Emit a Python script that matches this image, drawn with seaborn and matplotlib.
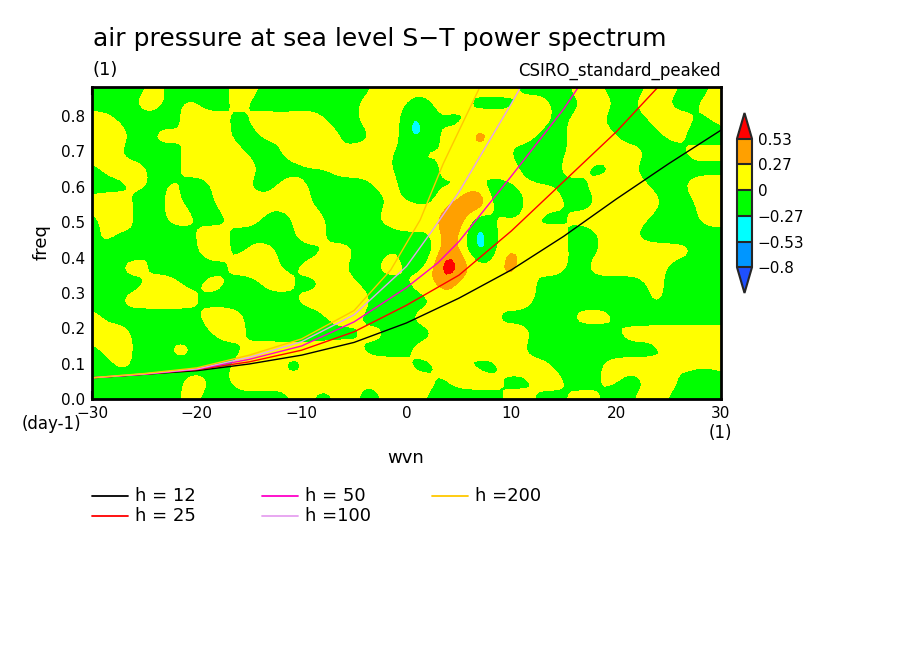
import numpy as np
import seaborn as sns
import matplotlib
matplotlib.use("Agg")
import matplotlib.pyplot as plt
from matplotlib.colors import ListedColormap, BoundaryNorm
from matplotlib.lines import Line2D

# contour levels and colours (GrADS style shading)
levels = [-0.8, -0.53, -0.27, 0, 0.27, 0.53]
level_labels = ["\u22120.8", "\u22120.53", "\u22120.27", "0", "0.27", "0.53"]
fill_colors = ["#0096ff", "#00ffff", "#00ff00", "#ffff00", "#ffa000"]
under_color = "#1e50ff"
over_color = "#ff0000"

# field, one letter per cell (top row = highest freq)
# g: -0.27..0  y: 0..0.27  o: 0.27..0.53  r: >0.53  c: -0.53..-0.27
field_left = [
    "ygggyggggyyggyggggyy", "gggyygyggygggggggyyy", "yyggggyyygyyyyyggyyy",
    "gyygyygyyggygyyyggyy", "yyggggygyyggyyogyyyg", "gyyyggyyyyyggggyyyyg",
    "gggygyggyyggyyggggyy", "yyyggyggyyyyyygggggy", "gyyggyyggyyggyygggyy",
    "gygygggyyggggyyggggg", "ygggyggyygyygggyyggy", "ggyygggggyyygyyyggyy",
    "ygggyygyyggyyggyyggg", "ggyyyyyggggggyyyyygg", "yggggggyyygggggyyggg",
    "yyygggggyygggggggyyg", "gyyggyygggyyyyyyyggg", "ggyggggggyyyggyyyyyy",
    "ggggggyygyyyyyyyyyyy", "ggygggyggggggyggocyy",
]
field_right = [
    "yyogyyygggyygggyyggy", "ggyygggyyggyygyyggyy", "cyggyyyyygyygggyyygy",
    "cgyyoyyyggyyygggyggg", "yygyyyggggyyyyyggyyy", "ggyygoygcyyggygggggg",
    "cyggycyyyggyyyyggyyy", "ggyorgcyyyggyyyyggyy", "oyoocyyyggyyyyygggyy",
    "ggoycyggyyggyygggggg", "cgoycgoyyyggyyyyyygg", "gyroyyogyygyyyyygggg",
    "yyogyyyygggggggygggg", "ggyyyyyygggggggygggg", "yyyyogggggyyyggggggg",
    "ggyyyyyygggggyyyyyyy", "yyyyyyygggggggggyyyy", "ggygggyyygggyyyygyyy",
    "yygoyyggyyggyggyygcg", "yggcggyyggyyggyygggg",
]
letter_value = {"g": -0.15, "y": 0.15, "o": 0.55, "r": 1.0, "c": -0.6}

# dispersion curves (wvn, freq) for each equivalent depth
h_labels = ["h = 12", "h = 25", "h = 50", "h =100", "h =200"]
h_colors = ["#000000", "#ff0000", "#ff00c8", "#e6a0f0", "#ffc800"]
wvn_h12 = [-30, -25, -20, -15, -10, -5, 0, 5, 10, 15, 20, 25, 30]
frq_h12 = [0.06, 0.07, 0.08, 0.099, 0.124, 0.16, 0.215, 0.285, 0.365, 0.46, 0.565, 0.665, 0.76]
wvn_h25 = [-30, -25, -20, -15, -10, -5, 0, 5, 10, 15, 20, 24]
frq_h25 = [0.06, 0.07, 0.083, 0.105, 0.138, 0.19, 0.265, 0.35, 0.475, 0.615, 0.755, 0.882]
wvn_h50 = [-30, -25, -20, -15, -10, -5, 0, 3, 5, 10, 15, 16.4]
frq_h50 = [0.06, 0.07, 0.084, 0.112, 0.15, 0.218, 0.315, 0.385, 0.445, 0.63, 0.82, 0.882]
wvn_h100 = [-30, -25, -20, -15, -10, -5, 0, 2.5, 5, 8, 10, 10.9]
frq_h100 = [0.06, 0.071, 0.085, 0.118, 0.162, 0.238, 0.375, 0.478, 0.585, 0.735, 0.835, 0.882]
wvn_h200 = [-30, -25, -20, -15, -10, -5, -1.5, 1.3, 3.5, 7]
frq_h200 = [0.06, 0.072, 0.088, 0.124, 0.17, 0.25, 0.365, 0.506, 0.665, 0.882]

xticks = [-30, -20, -10, 0, 10, 20, 30]
xtick_labels = ["\u221230", "\u221220", "\u221210", "0", "10", "20", "30"]
yticks = [0.0, 0.1, 0.2, 0.3, 0.4, 0.5, 0.6, 0.7, 0.8]
fmax = 0.882

sns.set_style("ticks")
plt.rcParams["font.family"] = ["DejaVu Sans"]
plt.rcParams["text.color"] = "black"
plt.rcParams["xtick.color"] = "black"
plt.rcParams["ytick.color"] = "black"


def refine(a, k=4):
    # linear upsampling then smoothing, so the shading edges are rounded
    ny, nx = a.shape
    fx = np.linspace(0, nx - 1, (nx - 1) * k + 1)
    fy = np.linspace(0, ny - 1, (ny - 1) * k + 1)
    a = np.array([np.interp(fx, np.arange(nx), r) for r in a])
    a = np.array([np.interp(fy, np.arange(ny), c) for c in a.T]).T
    ker = np.ones(k + 1) / (k + 1)
    for _ in range(2):
        p = np.pad(a, ((0, 0), (k // 2, k // 2)), mode="edge")
        a = np.array([np.convolve(r, ker, mode="valid") for r in p])
        p = np.pad(a, ((k // 2, k // 2), (0, 0)), mode="edge")
        a = np.array([np.convolve(c, ker, mode="valid") for c in p.T]).T
    return a


fig = plt.figure(figsize=(9.04, 6.54), dpi=100)
ax = fig.add_axes([92 / 904, 1 - 399 / 654, 629 / 904, 312 / 654])

rows = [l + r for l, r in zip(field_left, field_right)]
z = np.array([[letter_value[ch] for ch in row] for row in rows])[::-1]
zf = refine(z)
xs = np.linspace(-30, 30, zf.shape[1])
ys = np.linspace(0, fmax, zf.shape[0])

cmap = ListedColormap(fill_colors)
cmap.set_under(under_color)
cmap.set_over(over_color)
norm = BoundaryNorm(levels, cmap.N)
cs = ax.contourf(xs, ys, zf, levels=levels, cmap=cmap, norm=norm, extend="both")

curves = [(wvn_h12, frq_h12), (wvn_h25, frq_h25), (wvn_h50, frq_h50),
          (wvn_h100, frq_h100), (wvn_h200, frq_h200)]
for (w, f), c in zip(curves, h_colors):
    sns.lineplot(x=w, y=f, ax=ax, color=c, lw=1.0, sort=False,
                 estimator=None, legend=False)

ax.set_xlim(-30, 30)
ax.set_ylim(0, fmax)
ax.set_xticks(xticks)
ax.set_xticklabels(xtick_labels)
ax.set_yticks(yticks)
ax.set_yticklabels([f"{v:.1f}" for v in yticks])
ax.set_xticks(np.arange(-30, 31, 2), minor=True)
ax.set_yticks(np.arange(0, 0.86, 0.05), minor=True)
ax.tick_params(which="both", direction="in", top=True, right=True,
               width=1.5, labelsize=11, colors="black")
ax.tick_params(which="major", length=6, pad=5)
ax.tick_params(which="minor", length=3)
for s in ax.spines.values():
    s.set_linewidth(2)
    s.set_color("black")
ax.set_xlabel("")
ax.set_ylabel("")

# colour bar
cax = fig.add_axes([737 / 904, 1 - 293 / 654, 15 / 904, 180 / 654])
cb = fig.colorbar(cs, cax=cax, extend="both", extendfrac=0.2, drawedges=True)
cb.set_ticks(levels)
cb.set_ticklabels(level_labels)
cb.ax.tick_params(length=0, labelsize=11, pad=4, colors="black")
cb.outline.set_linewidth(1.5)
cb.dividers.set_linewidth(1.5)

# texts
fig.text(93 / 904, 1 - 46 / 654, "air pressure at sea level S\u2212T power spectrum",
         fontsize=18, va="baseline", ha="left")
fig.text(93 / 904, 1 - 75 / 654, "(1)", fontsize=13, va="baseline", ha="left")
fig.text(721 / 904, 1 - 76 / 654, "CSIRO_standard_peaked", fontsize=12,
         va="baseline", ha="right")
fig.text(42 / 904, 1 - 242 / 654, "freq", fontsize=13, rotation=90,
         va="center", ha="center")
fig.text(22 / 904, 1 - 424 / 654, "(day-1)", fontsize=12, va="center", ha="left")
fig.text(720 / 904, 1 - 433 / 654, "(1)", fontsize=12, va="center", ha="center")
fig.text(406 / 904, 1 - 458 / 654, "wvn", fontsize=13, va="center", ha="center")

# legend below the plot, GrADS layout
leg_pos = [(92, 496), (92, 516), (262, 496), (262, 516), (432, 496)]
for (px, py), lab, c in zip(leg_pos, h_labels, h_colors):
    fig.add_artist(Line2D([px / 904, (px + 36) / 904], [1 - py / 654, 1 - py / 654],
                          color=c, lw=1.3, transform=fig.transFigure))
    fig.text((px + 43) / 904, 1 - py / 654, lab, fontsize=13, va="center", ha="left")

fig.savefig("out.png", dpi=100, facecolor="white")
